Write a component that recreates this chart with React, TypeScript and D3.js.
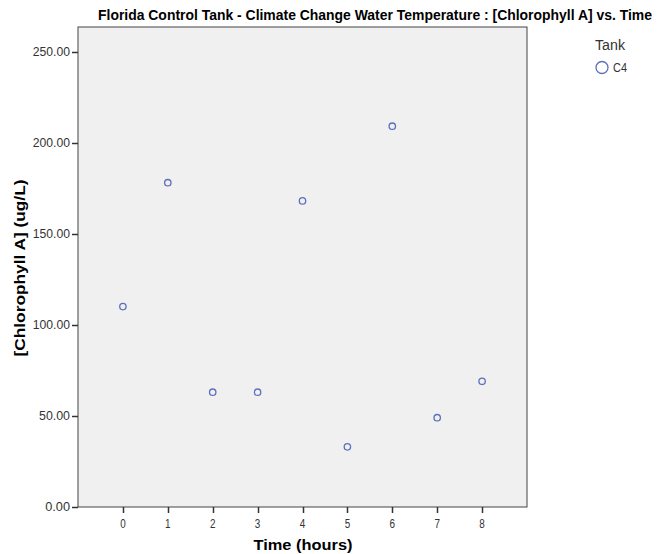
import React from "react";
import * as d3 from "d3";

const times = [0, 1, 2, 3, 4, 5, 6, 7, 8];
const chlorophyll = [110, 178, 63, 63, 168, 33, 209, 49, 69];
const yTicks = [0, 50, 100, 150, 200, 250];
const xTicks = [0, 1, 2, 3, 4, 5, 6, 7, 8];
const seriesName = "C4";
const legendTitle = "Tank";

const W = 657, H = 554;
const left = 78, right = 527, top = 27, bottom = 507;
const font = "'Liberation Sans Narrow', 'Arial Narrow', 'Liberation Sans', Arial, sans-serif";
const pointColor = "#5c6fbd";

export default function App() {
  const x = d3.scaleLinear().domain([-1, 9]).range([left, right]);
  const y = d3.scaleLinear().domain([0, 250]).range([bottom, 51.5]);
  const fmt = d3.format(".2f");
  return (
    <svg width={W} height={H} style={{ position: "absolute", left: 0, top: 0, background: "#fff" }}>
      <text x={375} y={20} textAnchor="middle" fontFamily={font} fontWeight="bold" fontSize={14}
        textLength={554} lengthAdjust="spacingAndGlyphs" fill="#000">
        Florida Control Tank - Climate Change Water Temperature : [Chlorophyll A] vs. Time
      </text>
      <rect x={left} y={top} width={right - left} height={bottom - top} fill="#f0f0f0" stroke="#444" strokeWidth={1} />
      {yTicks.map((t) => (
        <g key={"y" + t}>
          <line x1={left - 6} x2={left} y1={Math.round(y(t)) + 0.5} y2={Math.round(y(t)) + 0.5} stroke="#333" strokeWidth={1.5} />
          <text x={left - 8} y={y(t) + 4} textAnchor="end" fontFamily={font} fontSize={12}
            textLength={fmt(t).length * 6.2} lengthAdjust="spacingAndGlyphs" fill="#333">
            {fmt(t)}
          </text>
        </g>
      ))}
      {xTicks.map((t) => (
        <g key={"x" + t}>
          <line x1={Math.round(x(t)) + 0.5} x2={Math.round(x(t)) + 0.5} y1={bottom} y2={bottom + 6} stroke="#333" strokeWidth={1.5} />
          <text x={x(t)} y={bottom + 21} textAnchor="middle" fontFamily={font} fontSize={12.5}
            textLength={5.5} lengthAdjust="spacingAndGlyphs" fill="#333">
            {t}
          </text>
        </g>
      ))}
      <text x={303} y={550} textAnchor="middle" fontFamily={font} fontWeight="bold" fontSize={15.5}
        textLength={99} lengthAdjust="spacingAndGlyphs" fill="#000">
        Time (hours)
      </text>
      <text transform={`translate(25,268) rotate(-90)`} textAnchor="middle" fontFamily={font} fontWeight="bold" fontSize={15.5}
        textLength={177} lengthAdjust="spacingAndGlyphs" fill="#000">
        [Chlorophyll A] (ug/L)
      </text>
      {times.map((t, i) => (
        <circle key={"p" + i} cx={x(t)} cy={y(chlorophyll[i])} r={3.2} fill="none" stroke={pointColor} strokeWidth={1.3} />
      ))}
      <text x={595} y={50} fontFamily={font} fontSize={14} textLength={30} lengthAdjust="spacingAndGlyphs" fill="#333">{legendTitle}</text>
      <circle cx={602} cy={67.5} r={6} fill="none" stroke={pointColor} strokeWidth={1.3} />
      <text x={613} y={72} fontFamily={font} fontSize={12} textLength={14} lengthAdjust="spacingAndGlyphs" fill="#333">{seriesName}</text>
    </svg>
  );
}
